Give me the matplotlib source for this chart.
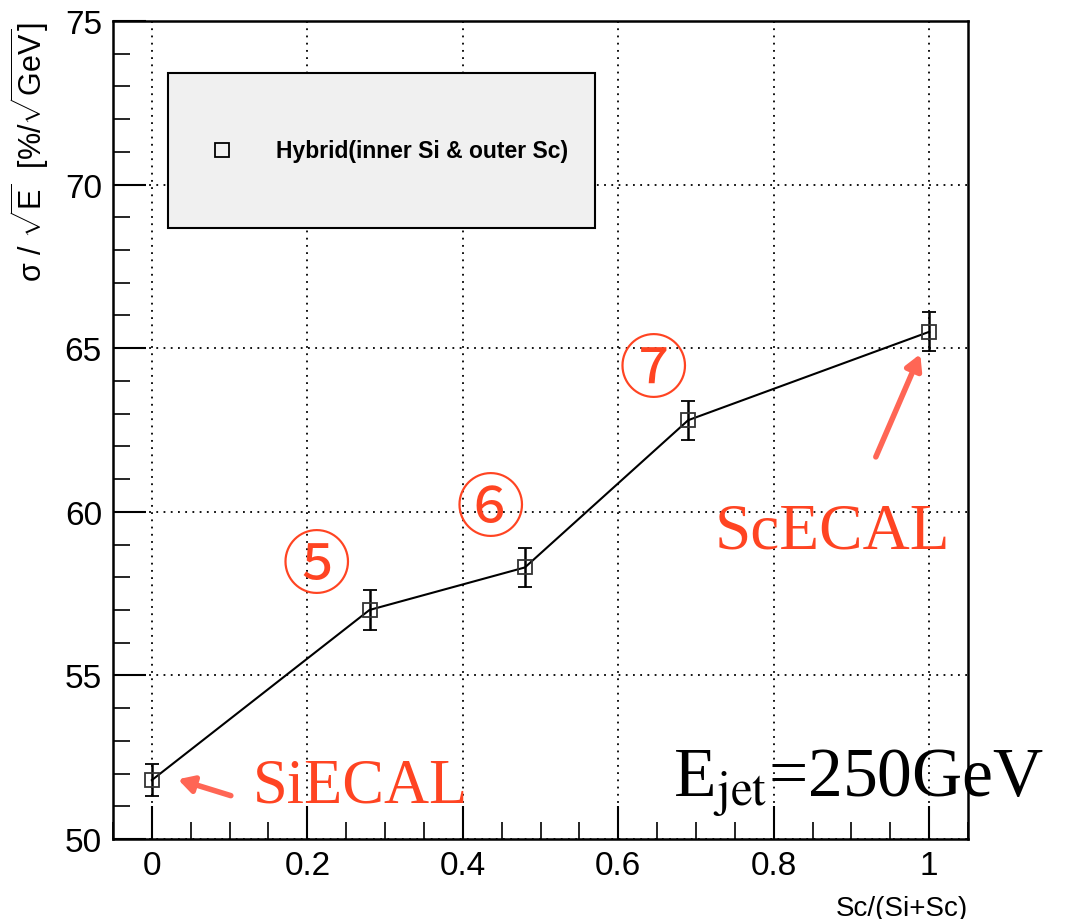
import matplotlib.pyplot as plt
from matplotlib.ticker import MultipleLocator

# data
frac = [0.0, 0.28, 0.48, 0.69, 1.0]
res = [51.8, 57.0, 58.3, 62.8, 65.5]
res_err = [0.5, 0.6, 0.6, 0.6, 0.6]
labels = ["⑤", "⑥", "⑦"]
label_x = [0.212, 0.436, 0.645]
label_y = [58.3, 60.05, 64.3]

plt.rcParams['font.family'] = ['Liberation Sans', 'DejaVu Sans']
plt.rcParams['mathtext.fontset'] = 'custom'
plt.rcParams['mathtext.rm'] = 'Liberation Sans'
plt.rcParams['mathtext.it'] = 'Liberation Sans:italic'

fig = plt.figure(figsize=(10.66, 9.2), dpi=100)
ax = fig.add_axes([113 / 1066, 80 / 920, 855 / 1066, 818 / 920])

ax.errorbar(frac, res, yerr=res_err, color='black', lw=1.5, capsize=5,
            elinewidth=1.8, capthick=1.8, marker='s', ms=10, mfc='none',
            mec='#333333', mew=1.3, zorder=3)

ax.set_xlim(-0.05, 1.05)
ax.set_ylim(50, 75)
ax.xaxis.set_major_locator(MultipleLocator(0.2))
ax.xaxis.set_minor_locator(MultipleLocator(0.05))
ax.yaxis.set_major_locator(MultipleLocator(5))
ax.yaxis.set_minor_locator(MultipleLocator(1))
ax.set_xticks([0, 0.2, 0.4, 0.6, 0.8, 1.0])
ax.set_xticklabels(['0', '0.2', '0.4', '0.6', '0.8', '1'])
ax.tick_params(which='major', direction='in', length=24, width=1.5,
               labelsize=24, pad=8)
ax.tick_params(which='minor', direction='in', length=12, width=1.2)
ax.tick_params(top=False, right=False)
ax.grid(True, which='major', color='black', ls=(0, (1, 3)), lw=1.3)
for s in ax.spines.values():
    s.set_linewidth(1.8)

ax.set_ylabel(r'σ / $\sqrt{\rm E}$  [%/$\sqrt{\rm GeV}$]', fontsize=22,
              loc='top', labelpad=10)
ax.set_xlabel('Sc/(Si+Sc)', fontsize=20, loc='right', labelpad=10)

# legend box
box = plt.Rectangle((0.064, 0.747), 0.4995, 0.19, transform=ax.transAxes,
                    facecolor='#f0f0f0', edgecolor='black', lw=1.5, zorder=4)
ax.add_patch(box)
ax.plot([0.127], [0.842], transform=ax.transAxes, marker='s', ms=10,
        mfc='none', mec='black', mew=1.3, zorder=5)
ax.text(0.191, 0.842, 'Hybrid(inner Si & outer Sc)', transform=ax.transAxes,
        fontsize=16.5, fontweight='bold', va='center', zorder=5)

red = '#ff4422'
for t, x, y in zip(labels, label_x, label_y):
    ax.text(x, y, t, fontsize=50, color=red, ha='center', va='center',
            family=['Noto Sans CJK JP', 'DejaVu Sans'])

ax.text(0.13, 51.6, 'SiECAL', fontsize=45, color=red, va='center',
        family='Liberation Serif')
ax.text(0.724, 59.4, 'ScECAL', fontsize=47, color=red, va='center',
        family='Liberation Serif')
ax.text(0.67, 51.75, r'E$_{\rm jet}$=250GeV', fontsize=50, color='black',
        va='center', family='Liberation Serif', math_fontfamily='stix')

arrow_col = '#ff6655'
ax.annotate('', xy=(0.03, 51.85), xytext=(0.105, 51.3),
            arrowprops=dict(arrowstyle='-|>,head_length=0.9,head_width=0.5',
                            color=arrow_col, lw=4))
ax.annotate('', xy=(0.99, 64.9), xytext=(0.93, 61.6),
            arrowprops=dict(arrowstyle='-|>,head_length=0.9,head_width=0.5',
                            color=arrow_col, lw=4))

fig.savefig('out.png', dpi=100)
